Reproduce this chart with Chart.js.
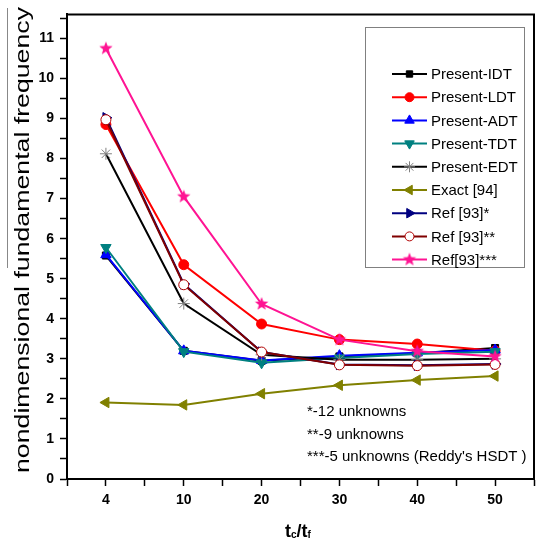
<!DOCTYPE html>
<html lang="en">
<head>
<meta charset="UTF-8">
<title>Fundamental frequency vs tc/tf</title>
<script src="https://cdn.jsdelivr.net/npm/chart.js"></script>
<style>
  html, body { margin: 0; padding: 0; background: #fff; overflow: hidden; }
  #grafico { display: block; }
</style>
</head>
<body>
<canvas id="grafico" width="541" height="541"></canvas>
<script>
// thickness ratio categories
const ratios = ['4', '10', '20', '30', '40', '50'];

// nondimensional fundamental frequency for each theory
const presentIDT = [5.58, 3.20, 2.95, 3.06, 3.14, 3.27];
const presentLDT = [8.85, 5.35, 3.87, 3.48, 3.37, 3.20];
const presentADT = [5.60, 3.20, 2.96, 3.08, 3.15, 3.22];
const presentTDT = [5.78, 3.18, 2.90, 3.02, 3.12, 3.18];
const presentEDT = [8.12, 4.38, 3.10, 2.98, 2.98, 3.00];
const exact94    = [1.91, 1.85, 2.13, 2.34, 2.47, 2.57];
const ref93a     = [9.02, 4.87, 3.17, 2.86, 2.84, 2.87];
const ref93b     = [8.97, 4.85, 3.17, 2.85, 2.83, 2.86];
const ref93c     = [10.75, 7.05, 4.37, 3.48, 3.19, 3.06];

const yTicks = [0, 1, 2, 3, 4, 5, 6, 7, 8, 9, 10, 11];

const notas = ['*-12 unknowns', '**-9 unknowns', "***-5 unknowns (Reddy's HSDT )"];

const fonte = '"Liberation Sans", Arial, sans-serif';

// filled five point star used as marker for Ref[93]***
function estrela(r, cor) {
  const c = document.createElement('canvas');
  c.width = c.height = Math.ceil(r * 2 + 2);
  const g = c.getContext('2d');
  const cx = c.width / 2, cy = c.height / 2;
  g.beginPath();
  for (let i = 0; i < 10; i++) {
    const rr = i % 2 === 0 ? r : r * 0.42;
    const a = -Math.PI / 2 + i * Math.PI / 5;
    g.lineTo(cx + rr * Math.cos(a), cy + rr * Math.sin(a));
  }
  g.closePath();
  g.fillStyle = cor;
  g.fill();
  return c;
}

function pontos(arr) {
  return arr.map((v, i) => ({ x: i, y: v }));
}

function serie(label, arr, cor, estilo, extra) {
  return Object.assign({
    label: label,
    data: pontos(arr),
    borderColor: cor,
    backgroundColor: cor,
    pointBackgroundColor: cor,
    pointBorderColor: cor,
    borderWidth: 2,
    pointRadius: 5,
    pointBorderWidth: 1,
    pointStyle: estilo,
    tension: 0
  }, extra || {});
}

const datasets = [
  serie('Present-IDT', presentIDT, '#000000', 'rect', { pointRadius: 5 }),
  serie('Present-LDT', presentLDT, '#ff0000', 'circle'),
  serie('Present-ADT', presentADT, '#0000ff', 'triangle', { pointRadius: 6 }),
  serie('Present-TDT', presentTDT, '#008080', 'triangle', { pointRotation: 180, pointRadius: 6 }),
  serie('Present-EDT', presentEDT, '#000000', 'star', { pointBorderColor: '#808080', pointRadius: 6 }),
  serie('Exact [94]', exact94, '#808000', 'triangle', { pointRotation: -90, pointRadius: 6 }),
  serie('Ref [93]*', ref93a, '#000080', 'triangle', { pointRotation: 90, pointRadius: 6 }),
  serie('Ref [93]**', ref93b, '#800000', 'circle', { pointBackgroundColor: '#ffffff', pointBorderColor: '#b00000' }),
  serie('Ref[93]***', ref93c, '#ff1493', estrela(7, '#ff1493'))
];
// later series drawn on top
datasets.forEach((d, i) => { d.order = datasets.length - i; });

// frame, legend box, notes and axis titles
const extras = {
  id: 'extras',
  afterDraw(chart) {
    const ctx = chart.ctx;
    const a = chart.chartArea;
    ctx.save();

    // top border of the frame
    ctx.strokeStyle = '#000';
    ctx.lineWidth = 2;
    ctx.beginPath();
    ctx.moveTo(a.left, a.top);
    ctx.lineTo(a.right, a.top);
    ctx.lineTo(a.right, a.bottom);
    ctx.stroke();

    // legend
    ctx.strokeStyle = '#808080';
    ctx.lineWidth = 1;
    ctx.strokeRect(365.5, 27.5, 159, 240);
    ctx.font = '15px ' + fonte;
    ctx.textBaseline = 'middle';
    ctx.textAlign = 'left';
    chart.data.datasets.forEach((d, i) => {
      const y = 74 + i * 23.2;
      ctx.strokeStyle = d.borderColor;
      ctx.lineWidth = 2;
      ctx.beginPath();
      ctx.moveTo(392, y);
      ctx.lineTo(427, y);
      ctx.stroke();
      ctx.fillStyle = d.pointBackgroundColor;
      ctx.strokeStyle = d.pointBorderColor;
      ctx.lineWidth = 1;
      Chart.helpers.drawPoint(ctx, {
        pointStyle: d.pointStyle,
        rotation: d.pointRotation || 0,
        radius: d.pointStyle === 'circle' || d.pointStyle === 'rect' ? 4.5 : 5.5,
        borderWidth: 1
      }, 409.5, y);
      ctx.fillStyle = '#000';
      ctx.fillText(d.label, 431, y + 1);
    });

    // notes
    ctx.fillStyle = '#000';
    notas.forEach((t, i) => ctx.fillText(t, 307, 412 + i * 22.5));

    // y title, stretched to span the axis
    ctx.save();
    ctx.translate(29, 240);
    ctx.rotate(-Math.PI / 2);
    ctx.font = '21px ' + fonte;
    ctx.textAlign = 'center';
    ctx.textBaseline = 'alphabetic';
    const titulo = 'nondimensional fundamental frequency';
    const w = ctx.measureText(titulo).width;
    ctx.scale(466 / w, 1);
    ctx.fillStyle = '#000';
    ctx.fillText(titulo, 0, 0);
    ctx.restore();
    ctx.strokeStyle = '#888';
    ctx.lineWidth = 1;
    ctx.beginPath();
    ctx.moveTo(7.5, 8);
    ctx.lineTo(7.5, 268);
    ctx.stroke();

    // x title t_c/t_f
    ctx.textBaseline = 'alphabetic';
    ctx.textAlign = 'left';
    let x = 285;
    const yb = 537;
    const partes = [['t', 18, 0], ['c', 10, 1], ['/t', 18, 0], ['f', 10, 1]];
    partes.forEach(p => {
      ctx.font = 'bold ' + p[1] + 'px ' + fonte;
      ctx.fillText(p[0], x, yb + (p[2] ? 1 : 0));
      x += ctx.measureText(p[0]).width;
    });
    ctx.restore();
  }
};

new Chart(document.getElementById('grafico'), {
  type: 'line',
  data: { datasets: datasets },
  options: {
    responsive: false,
    animation: false,
    layout: { padding: { left: 0, top: 10, right: 0, bottom: 0 } },
    plugins: { legend: { display: false }, tooltip: { enabled: false } },
    scales: {
      x: {
        type: 'linear',
        min: -0.5,
        max: 5.5,
        afterFit(s) { s.height = 62; },
        afterBuildTicks(s) {
          s.ticks = [];
          for (let v = -0.5; v <= 5.5; v += 0.5) s.ticks.push({ value: v });
        },
        ticks: {
          autoSkip: false,
          maxRotation: 0,
          padding: 6,
          color: '#000',
          font: { family: fonte, size: 14, weight: 'bold' },
          callback: v => Number.isInteger(v) && v >= 0 ? ratios[v] : ''
        },
        grid: { drawOnChartArea: false, tickLength: 7, tickColor: '#000', tickWidth: 1.5 },
        border: { color: '#000', width: 2 }
      },
      y: {
        min: 0,
        max: 11.6,
        afterFit(s) { s.width = 67; },
        afterBuildTicks(s) {
          s.ticks = [];
          yTicks.forEach(v => { s.ticks.push({ value: v }); s.ticks.push({ value: v + 0.5 }); });
        },
        ticks: {
          autoSkip: false,
          padding: 6,
          color: '#000',
          font: { family: fonte, size: 14, weight: 'bold' },
          callback: v => yTicks.includes(v) ? String(v) : ''
        },
        grid: { drawOnChartArea: false, tickLength: 7, tickColor: '#000', tickWidth: 1.5 },
        border: { color: '#000', width: 2 }
      }
    }
  },
  plugins: [extras]
});
</script>
</body>
</html>
